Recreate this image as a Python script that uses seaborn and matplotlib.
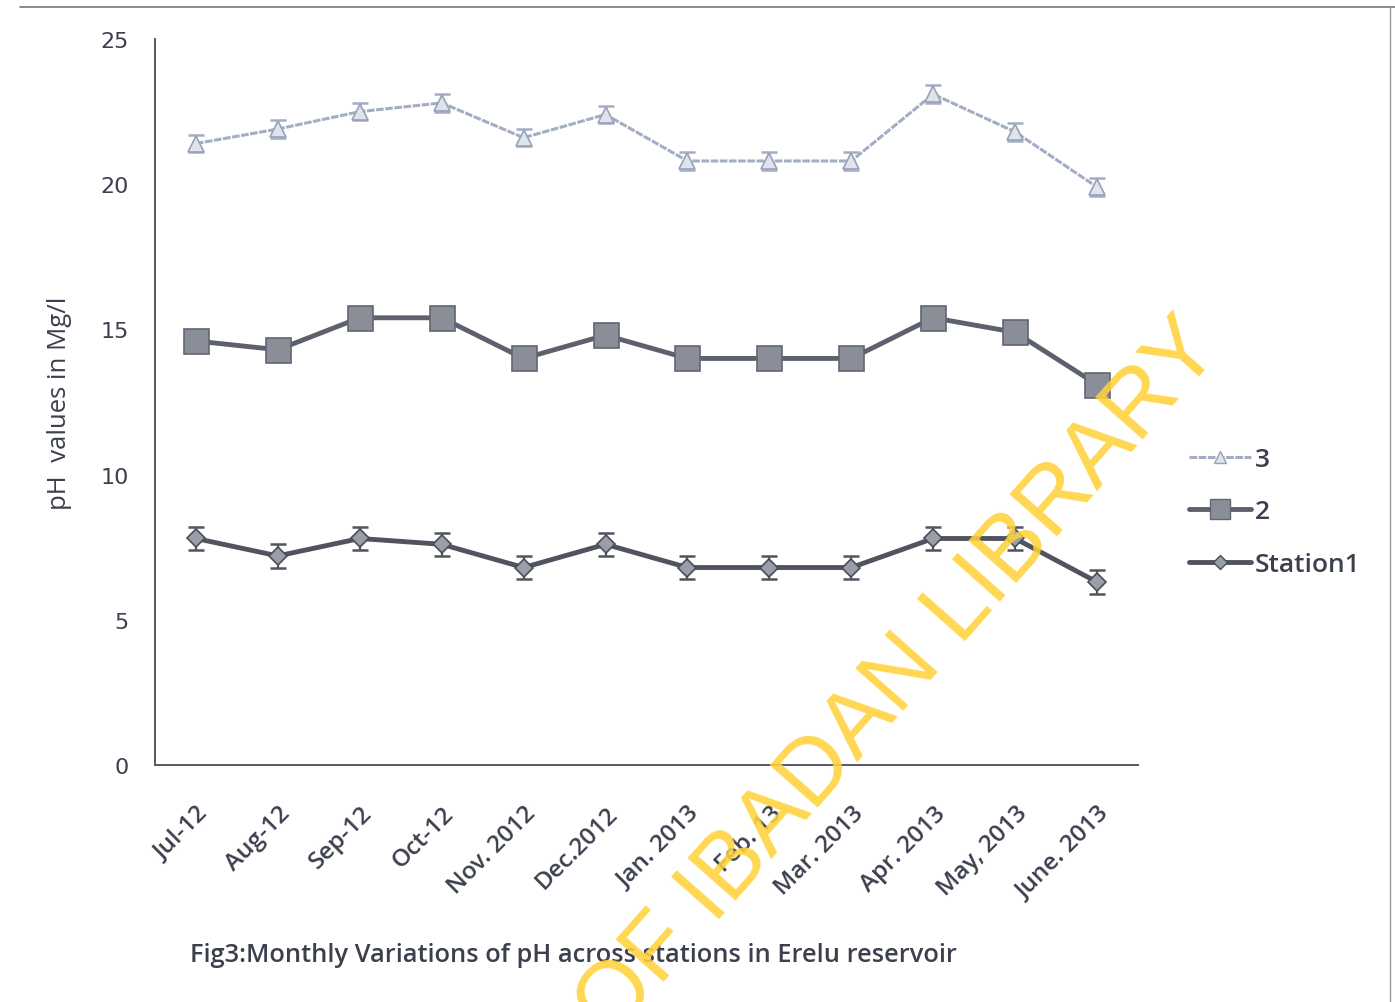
import numpy as np
import pandas as pd
import matplotlib
matplotlib.use("Agg")
import matplotlib.pyplot as plt
import seaborn as sns
from matplotlib.lines import Line2D

months = ["Jul-12", "Aug-12", "Sep-12", "Oct-12", "Nov. 2012", "Dec.2012",
          "Jan. 2013", "Feb. 13", "Mar. 2013", "Apr. 2013", "May, 2013", "June. 2013"]
station3 = [21.4, 21.9, 22.5, 22.8, 21.6, 22.4, 20.8, 20.8, 20.8, 23.1, 21.8, 19.9]
station2 = [14.6, 14.3, 15.4, 15.4, 14.0, 14.8, 14.0, 14.0, 14.0, 15.4, 14.9, 13.1]
station1 = [7.8, 7.2, 7.8, 7.6, 6.8, 7.6, 6.8, 6.8, 6.8, 7.8, 7.8, 6.3]
err3 = [0.3] * 12
err2 = [0.35] * 12
err1 = [0.4] * 12
series_names = ["3", "2", "Station1"]
ylabel = "pH  values in Mg/l"
caption = "Fig3:Monthly Variations of pH across stations in Erelu reservoir"
yticks = [0, 5, 10, 15, 20, 25]

sns.set_style("white")
plt.rcParams['font.family'] = ['Open Sans', 'DejaVu Sans']

txt = "#3b3f4e"
fig = plt.figure(figsize=(13.95, 10.03), dpi=100)
ax = fig.add_axes([155/1395, 1-766/1003, (1138-155)/1395, (766-40)/1003])

df = pd.DataFrame({"month": months * 3,
                   "value": station3 + station2 + station1,
                   "series": [series_names[0]]*12 + [series_names[1]]*12 + [series_names[2]]*12})
df["pos"] = list(range(12)) * 3

styles = {
    "3": dict(color="#a3aec4", lw=2.2, marker="^", ms=11, mfc="#dfe3ec", mec="#97a2b8", ls=(0, (2.5, 0.5))),
    "2": dict(color="#5d616d", lw=3.5, marker="s", ms=18, mfc="#8a8e99", mec="#62666f", ls="-"),
    "Station1": dict(color="#50545f", lw=3.5, marker="D", ms=9, mfc="#9a9ea8", mec="#4a4e58", ls="-"),
}
errs = {"3": err3, "2": err2, "Station1": err1}
handles = []
for name in series_names:
    st = styles[name]
    sub = df[df["series"] == name]
    ax.errorbar(sub["pos"], sub["value"], yerr=errs[name], fmt="none",
                ecolor=st["color"], elinewidth=1.6, capsize=6, capthick=1.8, zorder=2)
    sns.lineplot(data=sub, x="pos", y="value", ax=ax, color=st["color"], lw=st["lw"],
                 marker=st["marker"], markersize=st["ms"], markerfacecolor=st["mfc"],
                 markeredgecolor=st["mec"], markeredgewidth=1.2, linestyle=st["ls"],
                 legend=False, zorder=3)
    handles.append(Line2D([], [], color=st["color"], lw=st["lw"], marker=st["marker"],
                          markersize=st["ms"]*0.8, markerfacecolor=st["mfc"],
                          markeredgecolor=st["mec"], linestyle=st["ls"], label=name))

ax.set_xlim(-0.5, 11.5)
ax.set_ylim(0, 25)
ax.set_xticks(np.arange(-0.5, 12, 1))
ax.set_xticklabels([])
ax.set_xticks(range(12), minor=True)
ax.set_xticklabels(months, minor=True, rotation=45, ha="right", rotation_mode="anchor",
                   fontsize=17.5, fontweight="semibold", color=txt)
ax.tick_params(axis="x", which="minor", length=0, pad=26)
ax.tick_params(axis="x", which="major", length=10, width=1.2, color="#555a66", direction="out")
ax.set_yticks(yticks)
ax.set_yticklabels([str(v) for v in yticks], fontsize=16, color=txt, family=["DejaVu Sans"])
ax.tick_params(axis="y", length=9, width=1.2, color="#555a66", direction="out", pad=10)
ax.set_xlabel("")
ax.set_ylabel(ylabel, fontsize=18.5, color=txt, labelpad=20)
for s in ["top", "right"]:
    ax.spines[s].set_visible(False)
for s in ["left", "bottom"]:
    ax.spines[s].set_color("#555a66")
    ax.spines[s].set_linewidth(1.4)

fig.legend(handles=handles, loc="upper left", bbox_to_anchor=(1165/1395, 1-424/1003),
           frameon=False, handlelength=2.35, handletextpad=0.15,
           labelspacing=1.05, labelcolor=txt, prop={"weight": "semibold", "size": 19})

fig.text(190/1395, 1-956/1003, caption, fontsize=18.3, color=txt, va="center",
         fontweight="semibold")

fig.text(0.645, 0.322, "OF IBADAN LIBRARY", fontsize=67, color="#ffd23a", alpha=0.88,
         rotation=48.5, ha="center", va="center", family=["Liberation Sans"],
         fontweight="normal", zorder=10)

fig.add_artist(Line2D([20/1395, 1.0], [1-8/1003, 1-8/1003], color="#777777", lw=1.2))
fig.add_artist(Line2D([1390/1395, 1390/1395], [0, 1-8/1003], color="#999999", lw=1.0))

fig.savefig("out.png", dpi=100, facecolor="white")
